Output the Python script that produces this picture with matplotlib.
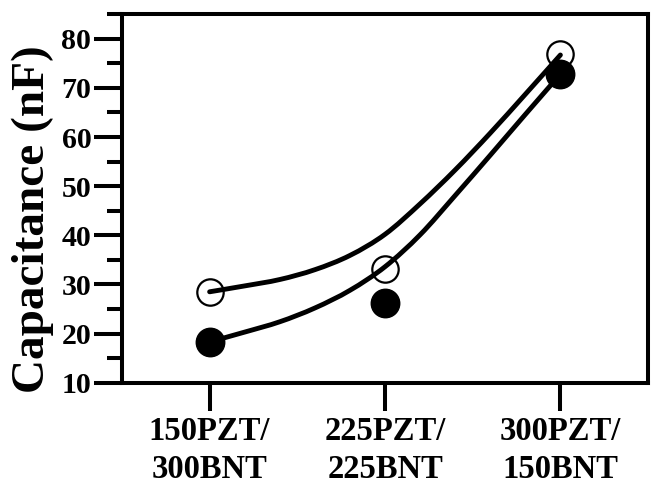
import matplotlib
matplotlib.use("Agg")
import matplotlib.pyplot as plt
from matplotlib.ticker import MultipleLocator
from matplotlib.path import Path
from matplotlib.patches import PathPatch

# ---- data ----
categories = ["150PZT/\n300BNT", "225PZT/\n225BNT", "300PZT/\n150BNT"]
open_values = [28.5, 33.2, 77.0]
filled_values = [18.3, 26.2, 72.9]

curve_x = [0.0, 0.2, 0.4, 0.6, 0.8, 1.0, 1.2, 1.4, 1.6, 1.8, 2.0]
open_curve = [28.5, 29.7, 31.0, 33.0, 35.9, 40.2, 46.4, 53.3, 60.8, 68.7, 76.7]
filled_curve = [18.3, 20.3, 22.4, 25.2, 28.8, 33.6, 40.1, 48.1, 56.3, 64.6, 72.8]

yticks = [10, 20, 30, 40, 50, 60, 70, 80]

plt.rcParams['font.family'] = ['Liberation Serif', 'DejaVu Serif']
plt.rcParams['font.weight'] = 'bold'


def smooth_path(xs, ys):
    """Smooth (Catmull-Rom style) Bezier path through the sampled points."""
    pts = list(zip(xs, ys))
    verts = [pts[0]]
    codes = [Path.MOVETO]
    n = len(pts)
    for i in range(n - 1):
        p0 = pts[i - 1] if i > 0 else pts[i]
        p1 = pts[i]
        p2 = pts[i + 1]
        p3 = pts[i + 2] if i + 2 < n else pts[i + 1]
        c1 = (p1[0] + (p2[0] - p0[0]) / 6.0, p1[1] + (p2[1] - p0[1]) / 6.0)
        c2 = (p2[0] - (p3[0] - p1[0]) / 6.0, p2[1] - (p3[1] - p1[1]) / 6.0)
        verts += [c1, c2, p2]
        codes += [Path.CURVE4] * 3
    return Path(verts, codes)


fig = plt.figure(figsize=(6.52, 4.9), dpi=100)
ax = fig.add_axes([0.187, 0.219, 0.807, 0.752])

xpos = list(range(len(categories)))
for cy in (open_curve, filled_curve):
    ax.add_patch(PathPatch(smooth_path(curve_x, cy), facecolor='none',
                           edgecolor='black', lw=3.5, capstyle='round',
                           joinstyle='round', zorder=2))
ax.plot(xpos, open_values, linestyle='none', marker='o', markersize=19,
        markerfacecolor='none', markeredgecolor='black', markeredgewidth=1.6, zorder=3)
ax.plot(xpos, filled_values, linestyle='none', marker='o', markersize=20.5,
        markerfacecolor='black', markeredgecolor='black', zorder=4)

ax.set_xlim(-0.5, 2.5)
ax.set_ylim(10, 85)
ax.set_xticks(xpos)
ax.set_xticklabels(categories, fontsize=23.5, fontweight='bold', linespacing=1.3)
ax.set_yticks(yticks)
ax.set_yticklabels([str(v) for v in yticks], fontsize=21.5, fontweight='bold')
ax.yaxis.set_minor_locator(MultipleLocator(5))

for s in ax.spines.values():
    s.set_linewidth(2.9)

ax.tick_params(axis='y', which='major', length=20, width=2.9, pad=2, direction='out')
ax.tick_params(axis='y', which='minor', length=10.5, width=2.9, direction='out')
ax.tick_params(axis='x', which='major', length=20, width=2.9, pad=4, direction='out')
ax.tick_params(top=False, right=False)

ax.set_ylabel("Capacitance (nF)", fontsize=34, fontweight='bold')
ax.yaxis.set_label_coords(-0.129, 0.444)

fig.savefig("out.png", dpi=100)
